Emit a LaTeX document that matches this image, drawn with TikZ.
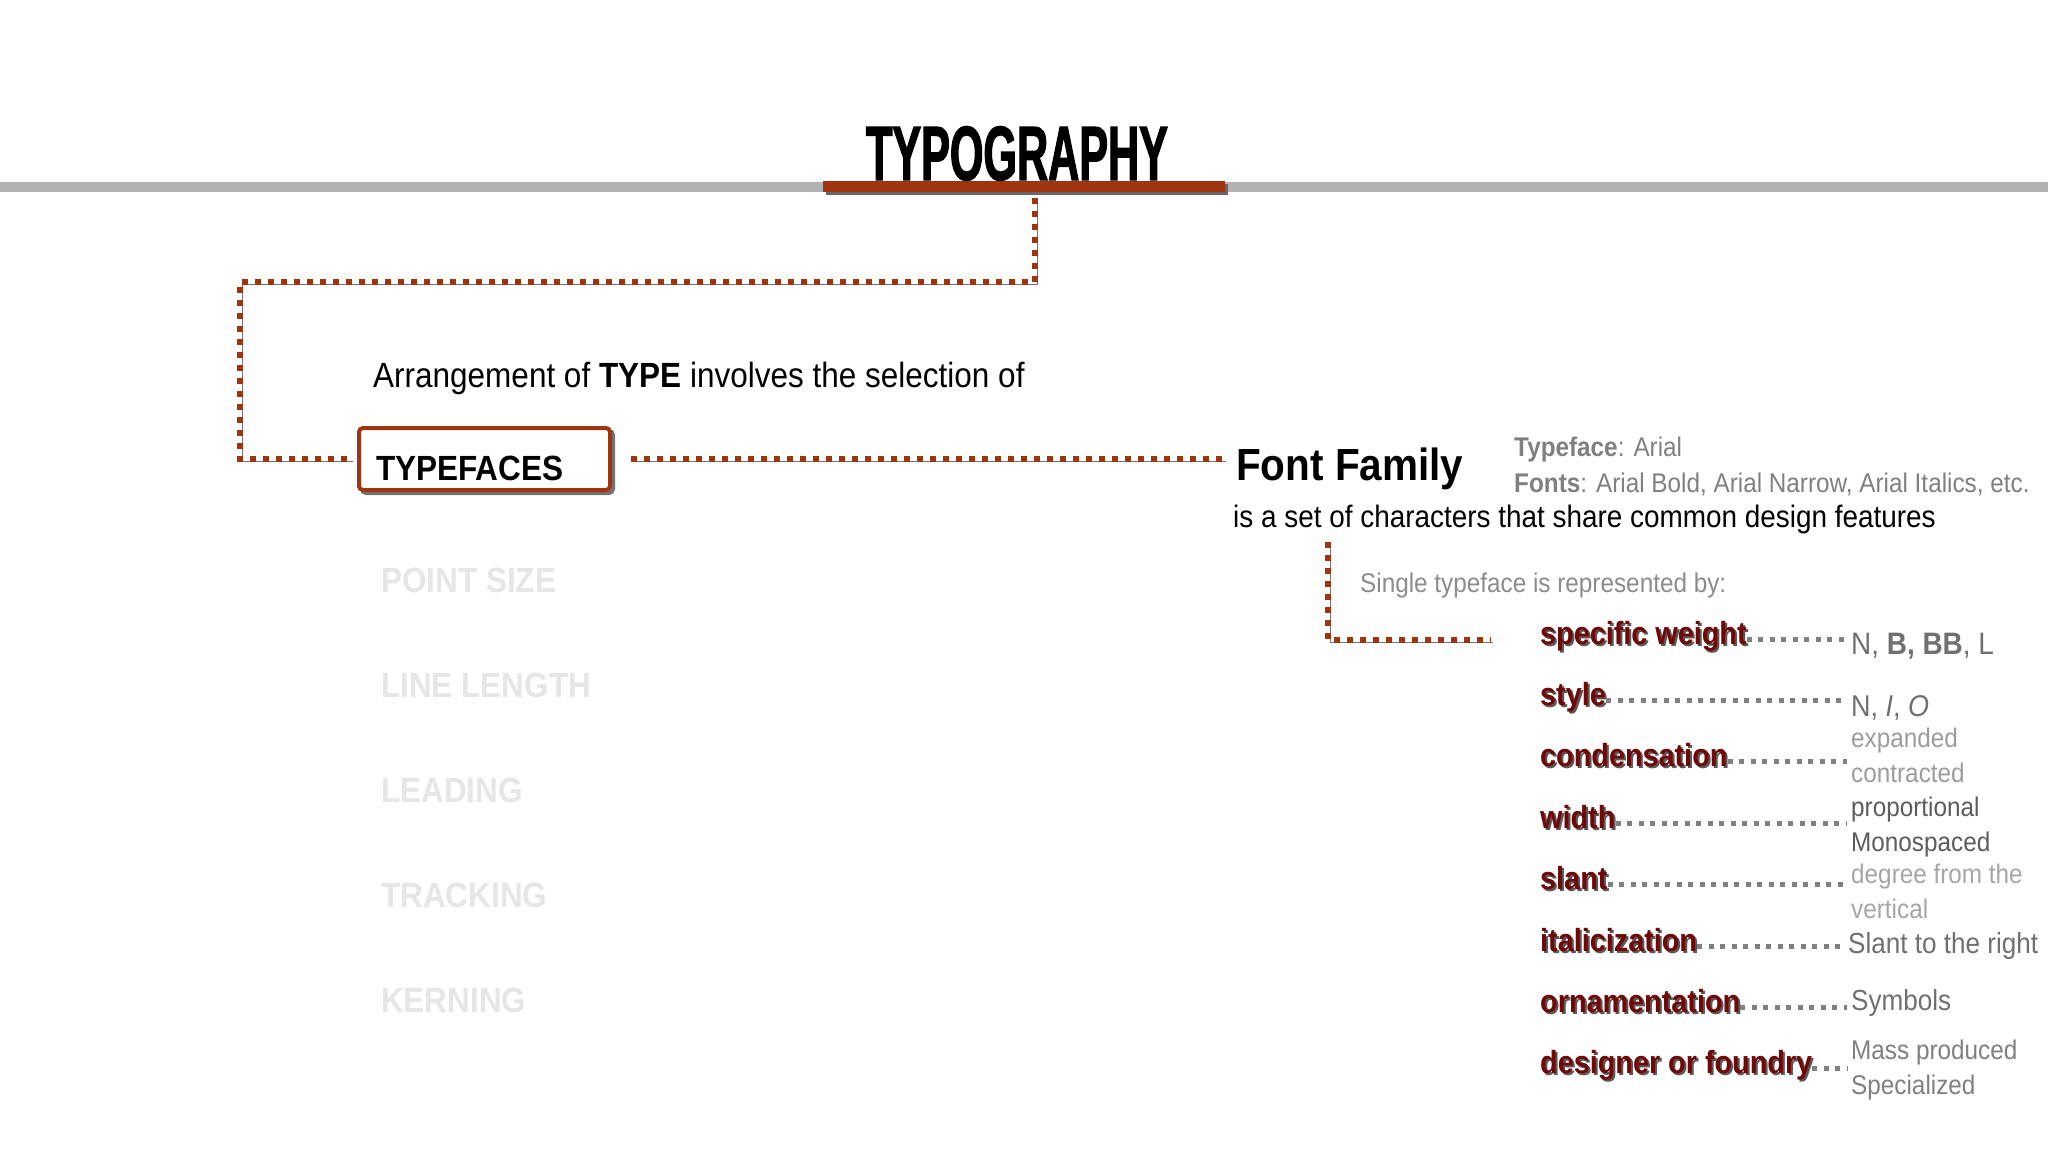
\documentclass[tikz,border=0pt]{standalone}
\usepackage{fontspec}
\setmainfont{Liberation Sans}[FakeStretch=0.9]
\newfontfamily\titlefont{Liberation Sans}[FakeStretch=0.56,BoldFeatures={FakeBold=1.5}]
\usepackage{tikz}
\usetikzlibrary{calc}
\definecolor{rust}{RGB}{160,52,14}
\definecolor{wine}{RGB}{112,8,8}
\definecolor{fade}{RGB}{230,230,230}
\definecolor{greyA}{RGB}{128,128,128}
\definecolor{greyB}{RGB}{140,140,140}
\definecolor{greyC}{RGB}{112,112,112}
\definecolor{greyD}{RGB}{156,156,156}
\definecolor{greyE}{RGB}{92,92,92}
\definecolor{greyF}{RGB}{166,166,166}
\newcommand\fs[1]{\fontsize{#1}{#1}\selectfont}

\begin{document}
\begin{tikzpicture}[x=1pt,y=-1pt,inner sep=0pt]

  \tikzstyle{rustdots}=[draw=rust,line width=6pt,dash pattern=on 6pt off 7pt,
                        preaction={draw=black!55,transform canvas={shift={(2pt,-2pt)}}}]
  \tikzstyle{greydots}=[draw=black!50,line width=5pt,dash pattern=on 5pt off 6.5pt,
                        shorten >=4pt]
  \tikzstyle{tfbox}=[draw=rust,line width=4pt,fill=white,rounded corners=4pt,
                     text width=217pt,inner xsep=17pt,inner ysep=0pt,
                     text height=52pt,text depth=10pt,font=\fs{35},anchor=base west,
                     preaction={draw=black!55,transform canvas={shift={(3pt,-3pt)}}}]
  \tikzstyle{faded}=[anchor=base west,font=\fs{35}\bfseries,text=fade]
  \tikzstyle{feat}=[anchor=base west,font=\fs{32}\bfseries,text=wine]
  \tikzstyle{featshadow}=[anchor=base west,font=\fs{32}\bfseries,text=black!65]
  \tikzstyle{val}=[anchor=base west,font=\fs{27}]

  \fill[white] (0,0) rectangle (2048,1152);
  \useasboundingbox (0,0) rectangle (2048,1152);

  % title
  \draw[black!30,line width=10pt] (0,187) -- (2048,187);
  \node[fill=rust,minimum width=402pt,minimum height=11pt,
        preaction={fill=black!60,transform canvas={shift={(3pt,-3pt)}}}] (bar) at (1024,186) {};
  \node[anchor=base] (title) at (1017,180) {\titlefont\bfseries\fs{77}TYPOGRAPHY};

  % left column
  \node[anchor=base west,font=\fs{35}] (intro) at (373,387) {Arrangement of \textbf{TYPE} involves the selection of};
  \node[tfbox] (tf) at (357,480) {\textbf{TYPEFACES}};
  \foreach \w [count=\i] in {POINT SIZE,LINE LENGTH,LEADING,TRACKING,KERNING}
    \node[faded] (f\i) at (381,487+105*\i) {\w};

  % font family
  \node[anchor=base west,font=\fs{45}\bfseries] (ff) at (1236,480) {Font Family};
  \node[anchor=base west,font=\fs{31}] (desc) at (1233,527) {is a set of characters that share common design features};
  \node[val,text=greyA] (tface) at (1514,456) {\textbf{Typeface}: Arial};
  \node[val,text=greyA] (fonts) at (1514,492) {\textbf{Fonts}: Arial Bold, Arial Narrow, Arial Italics, etc.};
  \node[val,text=greyB] (single) at (1360,592) {Single typeface is represented by:};

  % features
  \foreach \w [count=\i] in {specific weight,style,condensation,width,slant,italicization,ornamentation,designer or foundry}{
    \node[featshadow] at (1542,584.6+61.4*\i) {\w};
    \node[feat] (l\i) at (1540,582.6+61.4*\i) {\w};
  }

  \node[val,font=\fs{31},text=greyC] (v1) at (1851,654) {N, \textbf{B, BB}, L};
  \node[val,font=\fs{30},text=greyC] (v2) at (1851,716) {N, \textit{I}, \textit{O}};
  \node[val,text=greyD] (v3) at (1851,747) {expanded};
  \node[val,text=greyD] (v3b) at (1851,782) {contracted};
  \node[val,text=greyE] (v4) at (1851,816) {proportional};
  \node[val,text=greyE] (v4b) at (1851,851) {Monospaced};
  \node[val,text=greyF] (v5) at (1851,883) {degree from the};
  \node[val,text=greyF] (v5b) at (1851,918) {vertical};
  \node[val,font=\fs{29},text=greyC] (v6) at (1848,953) {Slant to the right};
  \node[val,font=\fs{29},text=greyC] (v7) at (1851,1010) {Symbols};
  \node[val,text=greyA] (v8) at (1851,1059) {Mass produced};
  \node[val,text=greyA] (v8b) at (1851,1094) {Specialized};

  % connectors
  \coordinate (bend) at (240,282);
  \draw[rustdots,shorten >=6pt] ($(bar.south)+(11,6)$) |- (bend) |- (tf.west);
  \draw[rustdots,shorten <=19pt,shorten >=12pt] (tf.east) -- (tf.east -| ff.west);
  \draw[rustdots] ($(desc.base west)+(95,15)$) |- ($(l1.base west)+(-49,-4)$);

  \foreach \i in {1,...,8}{
    \coordinate (s\i) at ($(l\i.base east)+(0,-5)$);
    \draw[greydots] (s\i) -- (s\i -| v\i.west);
  }

\end{tikzpicture}
\end{document}
